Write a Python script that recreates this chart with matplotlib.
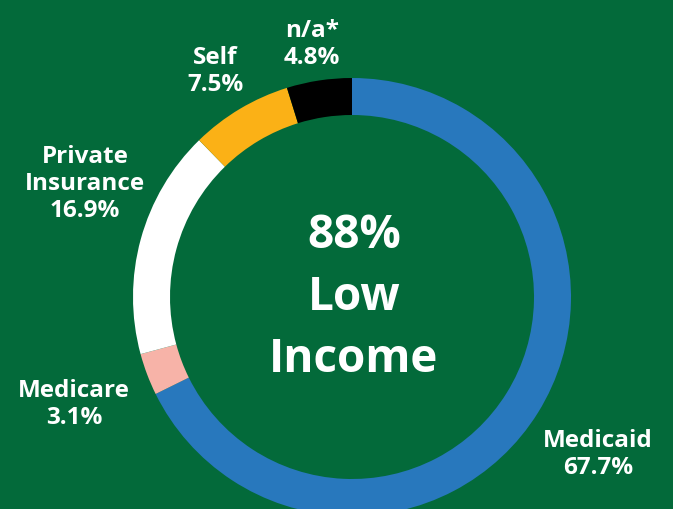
import matplotlib.pyplot as plt

# payer mix, clockwise from 12 o'clock
categories = ["Medicaid", "Medicare", "Private\nInsurance", "Self", "n/a*"]
shares = [67.7, 3.1, 16.9, 7.5, 4.8]
colors = ["#2878bd", "#f7b3a8", "#ffffff", "#fbb116", "#000000"]
center_lines = ["88%", "Low", "Income"]

BG = "#036a3a"
W, H = 673, 509

# label anchors in pixel coords: (x center, baseline of last line, from top)
label_pos = [(598, 474), (74, 424), (85, 217), (215, 91), (312, 64)]

fig = plt.figure(figsize=(W / 100, H / 100), dpi=100, facecolor=BG)
ax = fig.add_axes([0, 0, 1, 1])
ax.set_facecolor(BG)

cx, cy, r = 352, H - 297, 219
ax.pie(
    shares,
    colors=colors,
    startangle=90,
    counterclock=False,
    center=(cx, cy),
    radius=r,
    wedgeprops=dict(width=37, linewidth=0),
    frame=True,
)
ax.set_xlim(0, W)
ax.set_ylim(0, H)
ax.set_aspect("equal")
ax.axis("off")

for name, val, (x, y) in zip(categories, shares, label_pos):
    ax.text(
        x, H - y, f"{name}\n{val}%",
        ha="center", va="baseline",
        color="white", fontsize=17.5, fontweight="bold",
        family="Open Sans", linespacing=1.17,
    )

for i, line in enumerate(center_lines):
    ax.text(
        354, H - (248 + 62 * i), line,
        ha="center", va="baseline",
        color="white", fontsize=33, fontweight="bold",
        family="Open Sans",
    )

fig.savefig("out.png", dpi=100, facecolor=BG)
